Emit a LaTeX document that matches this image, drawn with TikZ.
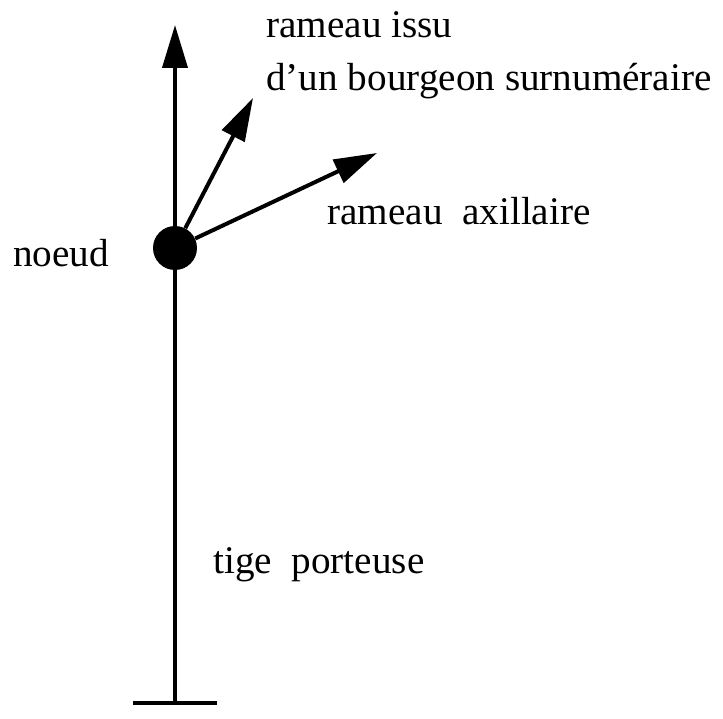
\documentclass[tikz,border=0pt]{standalone}
\usepackage{fontspec}
\setmainfont{Liberation Serif}
\usepackage{tikz}
\usetikzlibrary{arrows.meta}

\begin{document}
\begin{tikzpicture}[x=0.02cm,y=-0.02cm,font=\fontsize{22.3}{26}\selectfont,
  >={Triangle[length=0.86cm,width=0.5cm]},
  tx/.style={anchor=base west,inner sep=0pt},
  br/.style={->,line width=0.08cm},
  tr/.style={line width=0.08cm},
  nd/.style={circle,fill=black,inner sep=0pt,minimum size=0.88cm}]
  \useasboundingbox (0,0) rectangle (723,719);
  \node[nd] (n) at (175,248) {};
  \coordinate (sommet) at (175,25);
  \coordinate (pied) at (175,703);
  \coordinate (pg) at (133,703);
  \coordinate (pd) at (217,703);
  \coordinate (b1) at (253,98);
  \coordinate (b2) at (377,153);
  \node[tx] (l1) at (266,38) {rameau issu};
  \node[tx] (l2) at (266,91) {d'un bourgeon surnuméraire};
  \node[tx] (l3) at (327,225) {rameau\ \ axillaire};
  \node[tx] (l4) at (13,267) {noeud};
  \node[tx] (l5) at (213,573) {tige\ \ porteuse};
  \draw[tr](pied)--(n); \draw[br](n)--(sommet);
  \draw[br](n)--(b1); \draw[br](n)--(b2);
  \draw[tr](pg)--(pd);
\end{tikzpicture}
\end{document}
